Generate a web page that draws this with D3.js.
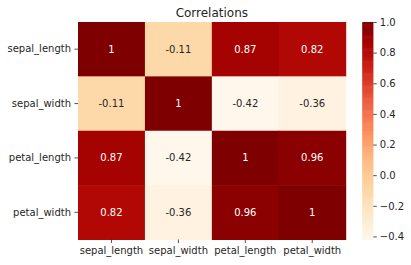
<!DOCTYPE html>
<html>
<head>
<meta charset="utf-8">
<script src="https://cdn.jsdelivr.net/npm/d3@7"></script>
<style>
  body { margin: 0; background: #fff; }
  text { font-family: "DejaVu Sans", sans-serif; }
</style>
</head>
<body>
<svg id="chart" width="411" height="265"></svg>
<script>
var labels = ['sepal_length', 'sepal_width', 'petal_length', 'petal_width'];
var rowSepalLength = [1, -0.11, 0.87, 0.82];
var rowSepalWidth = [-0.11, 1, -0.42, -0.36];
var rowPetalLength = [0.87, -0.42, 1, 0.96];
var rowPetalWidth = [0.82, -0.36, 0.96, 1];
var colorTicks = [-0.4, -0.2, 0.0, 0.2, 0.4, 0.6, 0.8, 1.0];

var matrix = [rowSepalLength, rowSepalWidth, rowPetalLength, rowPetalWidth];
var vmin = -0.42, vmax = 1;

var svg = d3.select('#chart');
// plot area (window.top is read-only, so use other names)
var plotLeft = 78, plotTop = 22, plotRight = 345.7, plotBottom = 239.5;

var x = d3.scaleBand().domain(labels).range([plotLeft, plotRight]);
var y = d3.scaleBand().domain(labels).range([plotTop, plotBottom]);
var color = d3.scaleSequential(d3.interpolateOrRd).domain([vmin, vmax]);

// flatten into cells
var cells = [];
matrix.forEach(function (row, i) {
  row.forEach(function (v, j) {
    cells.push({ r: labels[i], c: labels[j], v: v });
  });
});

svg.selectAll('rect.cell')
  .data(cells)
  .enter()
  .append('rect')
  .attr('class', 'cell')
  .attr('x', d => x(d.c))
  .attr('y', d => y(d.r))
  .attr('width', x.bandwidth() + 0.5)
  .attr('height', y.bandwidth() + 0.5)
  .attr('fill', d => color(d.v));

function textColor(v) {
  var c = d3.rgb(color(v));
  var lin = [c.r, c.g, c.b].map(function (u) {
    u = u / 255;
    return u <= 0.03928 ? u / 12.92 : Math.pow((u + 0.055) / 1.055, 2.4);
  });
  var lum = 0.2126 * lin[0] + 0.7152 * lin[1] + 0.0722 * lin[2];
  return lum > 0.408 ? '#262626' : '#ffffff';
}

svg.selectAll('text.annot')
  .data(cells)
  .enter()
  .append('text')
  .attr('class', 'annot')
  .attr('x', d => x(d.c) + x.bandwidth() / 2)
  .attr('y', d => y(d.r) + y.bandwidth() / 2)
  .attr('text-anchor', 'middle')
  .attr('dominant-baseline', 'central')
  .attr('font-size', 10)
  .attr('fill', d => textColor(d.v))
  .text(d => String(d.v));

// axes
var xAxis = svg.append('g')
  .attr('transform', 'translate(0,' + plotBottom + ')')
  .call(d3.axisBottom(x).tickSize(3.5).tickPadding(3.5));
var yAxis = svg.append('g')
  .attr('transform', 'translate(' + plotLeft + ',0)')
  .call(d3.axisLeft(y).tickSize(3.5).tickPadding(3.5));
[xAxis, yAxis].forEach(function (g) {
  g.select('.domain').remove();
  g.selectAll('text').attr('font-size', 10).attr('fill', '#262626').style('font-family', '"DejaVu Sans", sans-serif');
  g.selectAll('line').attr('stroke', '#262626').attr('stroke-width', 0.8);
});

// title
svg.append('text')
  .attr('x', (plotLeft + plotRight) / 2)
  .attr('y', 17)
  .attr('text-anchor', 'middle')
  .attr('font-size', 12)
  .attr('fill', '#262626')
  .text('Correlations');

// colorbar
var cbLeft = 362.3, cbWidth = 11;
var cy = d3.scaleLinear().domain([vmin, vmax]).range([plotBottom, plotTop]);
var steps = d3.range(0, 200);
svg.append('g')
  .selectAll('rect')
  .data(steps)
  .enter()
  .append('rect')
  .attr('x', cbLeft)
  .attr('y', d => cy(vmin + (d + 1) * (vmax - vmin) / steps.length))
  .attr('width', cbWidth)
  .attr('height', (plotBottom - plotTop) / steps.length + 0.6)
  .attr('fill', d => color(vmin + (d + 0.5) * (vmax - vmin) / steps.length));

var cAxis = svg.append('g')
  .attr('transform', 'translate(' + (cbLeft + cbWidth) + ',0)')
  .call(d3.axisRight(cy).tickValues(colorTicks).tickSize(3.5).tickPadding(3)
    .tickFormat(function (d) { return d3.format('.1f')(d).replace('-', '\u2212'); }));
cAxis.select('.domain').remove();
cAxis.selectAll('text').attr('font-size', 10).attr('fill', '#262626').style('font-family', '"DejaVu Sans", sans-serif');
cAxis.selectAll('line').attr('stroke', '#262626').attr('stroke-width', 0.8);
</script>
</body>
</html>
